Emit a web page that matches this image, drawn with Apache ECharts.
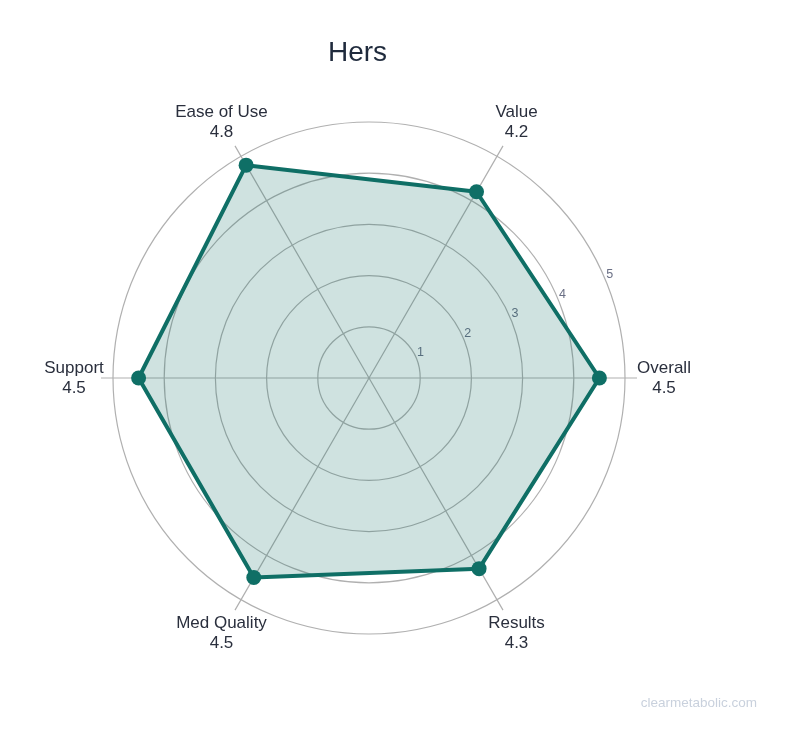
<!DOCTYPE html>
<html lang="en">
<head>
  <meta charset="UTF-8">
  <title>Hers radar</title>
  <style>
    html, body { margin: 0; padding: 0; background: #fff; }
    #chart { width: 800px; height: 751px; }
  </style>
</head>
<body>
  <div id="chart"></div>
  <script src="https://cdn.jsdelivr.net/npm/echarts@6/dist/echarts.min.js"></script>
  <script>
    // scores per category, counter-clockwise from the right
    const categories = ['Overall', 'Value', 'Ease of Use', 'Support', 'Med Quality', 'Results']
    const scores = [4.5, 4.2, 4.8, 4.5, 4.5, 4.3]
    const tickValues = [1, 2, 3, 4, 5]
    const maxScore = 5

    const teal = '#0f6f66'
    const gridGrey = '#b0b0b0'
    const font = '"Liberation Sans", Arial, sans-serif'

    const chart = echarts.init(document.getElementById('chart'))

    chart.setOption({
      backgroundColor: '#fff',
      animation: false,
      title: {
        text: 'Hers',
        left: 323,
        top: 34,
        textStyle: { fontFamily: font, fontSize: 28, fontWeight: 'normal', color: '#1f2a3c' }
      },
      graphic: [{
        type: 'text',
        right: 43,
        top: 696,
        style: { text: 'clearmetabolic.com', fill: '#c9d1dd', font: '13.5px ' + font }
      }],
      polar: [
        // rings + radial tick labels
        { center: [369, 378], radius: 256 },
        // spokes, reaching a bit past the outer ring
        { center: [369, 378], radius: 268 }
      ],
      angleAxis: [
        { polarIndex: 0, type: 'value', min: 0, max: 360, startAngle: 22.5, show: false },
        {
          polarIndex: 1, type: 'value', min: 0, max: 360, interval: 60, startAngle: 0,
          axisLine: { show: false }, axisTick: { show: false }, axisLabel: { show: false },
          splitLine: { show: true, lineStyle: { color: gridGrey, width: 1.2 } }
        }
      ],
      radiusAxis: [
        {
          polarIndex: 0, type: 'value', min: 0, max: maxScore, interval: 1,
          axisLine: { show: false }, axisTick: { show: false },
          axisLabel: {
            show: true, margin: 6, align: 'left', verticalAlign: 'middle',
            formatter: v => tickValues.includes(v) ? '{s|}{n|' + v + '}' : '',
            rich: {
              s: { width: 3 },
              n: { color: '#6a6f85', fontSize: 12.5, fontFamily: font }
            }
          },
          splitLine: { show: true, lineStyle: { color: gridGrey, width: 1.2 } }
        },
        { polarIndex: 1, type: 'value', min: 0, max: 1, show: false }
      ],
      radar: {
        center: [369, 378],
        radius: 256,
        startAngle: 0,
        shape: 'circle',
        splitNumber: 5,
        indicator: categories.map(name => ({ name: name, min: 0, max: maxScore })),
        nameGap: 39,
        axisName: {
          align: 'center',
          verticalAlign: 'middle',
          formatter: (name) => {
            const i = categories.indexOf(name)
            return '{a|' + name + '}\n{a|' + scores[i].toFixed(1) + '}'
          },
          rich: {
            a: { align: 'center', fontSize: 17, lineHeight: 20, color: '#2a2f3d', fontFamily: font }
          }
        },
        axisLine: { show: false },
        splitLine: { show: false },
        splitArea: { show: false }
      },
      series: [{
        type: 'radar',
        symbol: 'circle',
        symbolSize: 15,
        lineStyle: { color: teal, width: 4 },
        itemStyle: { color: teal },
        areaStyle: { color: teal, opacity: 0.2 },
        data: [{ value: scores, name: 'Hers' }]
      }]
    })
  </script>
</body>
</html>
